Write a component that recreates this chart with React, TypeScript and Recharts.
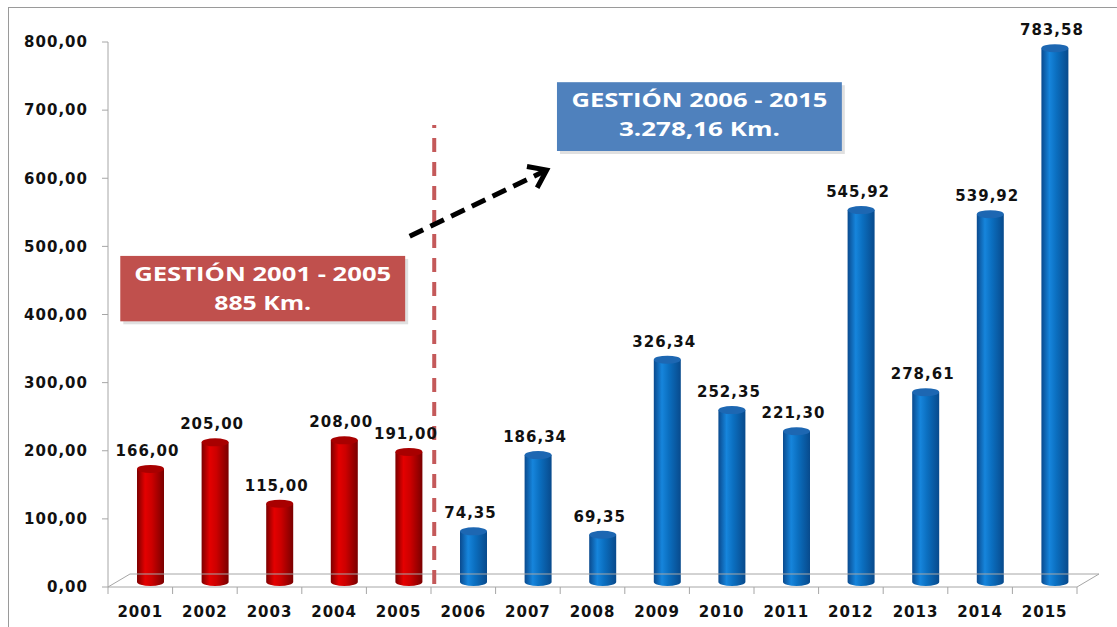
import React from 'react';
import {
  Bar,
  BarChart,
  Cell,
  LabelList,
  ReferenceArea,
  ReferenceLine,
  XAxis,
  YAxis,
} from 'recharts';

// Km por año
const years = [
  '2001', '2002', '2003', '2004', '2005', '2006', '2007', '2008',
  '2009', '2010', '2011', '2012', '2013', '2014', '2015',
];
const km = [
  166.0, 205.0, 115.0, 208.0, 191.0, 74.35, 186.34, 69.35,
  326.34, 252.35, 221.3, 545.92, 278.61, 539.92, 783.58,
];
const gestion = [
  'A', 'A', 'A', 'A', 'A', 'B', 'B', 'B', 'B', 'B', 'B', 'B', 'B', 'B', 'B',
];
const yTicks = [0, 100, 200, 300, 400, 500, 600, 700, 800];

const data = years.map((year, i) => ({ year, km: km[i], g: gestion[i] }));

const fmt = (v: number) => v.toFixed(2).replace('.', ',');
const TICK_FONT = {
  fontFamily: 'DejaVu Sans',
  fontWeight: 700,
  fontSize: 15,
  letterSpacing: 1,
  fill: '#111',
};
const BOX_FONT = {
  fontFamily: 'Open Sans',
  fontWeight: 700,
  fontSize: 19,
  fill: '#fff',
};

function Cylinder(props: any) {
  const { x, y, width, height, g } = props;
  const bx = x + 10;
  const top = y - 5;
  const bottom = y + height - 5;
  const rx = width / 2;
  const ry = 4;
  const red = g === 'A';
  return (
    <g>
      <path
        d={`M${bx},${top} L${bx},${bottom} A${rx},${ry} 0 0 0 ${bx + width},${bottom} L${bx + width},${top} Z`}
        fill={red ? 'url(#cylRed)' : 'url(#cylBlue)'}
      />
      <ellipse cx={bx + rx} cy={top} rx={rx} ry={ry} fill={red ? '#a80000' : '#1d67b2'} />
    </g>
  );
}

function Floor(props: any) {
  const { x1, x2, y1 } = props;
  const d = 22;
  const h = 13;
  const step = (x2 - x1) / years.length;
  return (
    <g stroke="#a6a6a6" strokeWidth={1} fill="none">
      <line x1={x1} y1={y1} x2={x2} y2={y1} />
      <line x1={x1 + d} y1={y1 - h} x2={x2 + d} y2={y1 - h} />
      <line x1={x1} y1={y1} x2={x1 + d} y2={y1 - h} />
      <line x1={x2} y1={y1} x2={x2 + d} y2={y1 - h} />
      {years.concat(['']).map((_, i) => (
        <line key={i} x1={x1 + i * step} y1={y1} x2={x1 + i * step} y2={y1 + 7} />
      ))}
    </g>
  );
}

function Arrow(props: any) {
  const { x1, y1, x2, y2 } = props;
  const ang = Math.atan2(y2 - y1, x2 - x1);
  const len = 20;
  const a1 = ang + Math.PI * 0.8;
  const a2 = ang - Math.PI * 0.8;
  return (
    <g stroke="#000" strokeWidth={5} fill="none">
      <line x1={x1} y1={y1} x2={x2 - 4 * Math.cos(ang)} y2={y2 - 4 * Math.sin(ang)} strokeDasharray="15 8" />
      <polyline
        points={`${x2 + len * Math.cos(a1)},${y2 + len * Math.sin(a1)} ${x2},${y2} ${x2 + len * Math.cos(a2)},${y2 + len * Math.sin(a2)}`}
        strokeLinejoin="miter"
      />
    </g>
  );
}

const boxShape = (fill: string, line1: string, line2: string, w1: number, w2: number) => (props: any) => {
  const { x, y, width, height } = props;
  const cx = x + width / 2;
  return (
    <g>
      <rect x={x + 3} y={y + 3} width={width} height={height} fill="#000" opacity={0.12} />
      <rect x={x} y={y} width={width} height={height} fill={fill} />
      <text x={cx - w1 / 2} y={y + 25} textLength={w1} lengthAdjust="spacingAndGlyphs" {...BOX_FONT}>
        {line1}
      </text>
      <text x={cx - w2 / 2} y={y + 54} textLength={w2} lengthAdjust="spacingAndGlyphs" {...BOX_FONT}>
        {line2}
      </text>
    </g>
  );
};

function ValueLabel(props: any) {
  const { x, y, width, value } = props;
  return (
    <text x={x + width / 2 + 7} y={y - 18} textAnchor="middle" {...TICK_FONT}>
      {fmt(value)}
    </text>
  );
}

export default function App() {
  return (
    <div style={{ position: 'absolute', left: 0, top: 0, width: 1117, height: 627, background: '#fff' }}>
      <div
        style={{
          position: 'absolute',
          left: 8,
          top: 7,
          width: 1109,
          height: 620,
          borderTop: '1px solid #9a9a9a',
          borderLeft: '1px solid #9a9a9a',
        }}
      />
      <div style={{ position: 'absolute', left: 0, top: 0 }}>
        <BarChart
          width={1117}
          height={627}
          data={data}
          margin={{ top: 42, right: 40, left: 0, bottom: 10 }}
          barSize={27}
        >
          <defs>
            <linearGradient id="cylRed" x1="0" y1="0" x2="1" y2="0">
              <stop offset="0" stopColor="#7c0000" />
              <stop offset="0.3" stopColor="#e40000" />
              <stop offset="0.55" stopColor="#cc0000" />
              <stop offset="1" stopColor="#7a0000" />
            </linearGradient>
            <linearGradient id="cylBlue" x1="0" y1="0" x2="1" y2="0">
              <stop offset="0" stopColor="#0a4a8e" />
              <stop offset="0.3" stopColor="#1685dc" />
              <stop offset="0.55" stopColor="#0b6fc0" />
              <stop offset="1" stopColor="#084a8c" />
            </linearGradient>
          </defs>
          <XAxis
            dataKey="year"
            height={30}
            axisLine={false}
            tickLine={false}
            tickSize={0}
            tickMargin={19}
            interval={0}
            tick={TICK_FONT}
          />
          <XAxis
            xAxisId="n"
            type="number"
            dataKey={() => 7.5}
            domain={[0, 15]}
            allowDataOverflow
            hide
          />
          <YAxis
            width={108}
            domain={[0, 800]}
            ticks={yTicks}
            interval={0}
            tickFormatter={fmt}
            tickSize={6}
            tickMargin={14}
            axisLine={{ stroke: '#a6a6a6' }}
            tickLine={{ stroke: '#a6a6a6' }}
            tick={TICK_FONT}
          />
          <ReferenceLine
            xAxisId="n"
            segment={[{ x: 0, y: 0 }, { x: 15, y: 0 }]}
            ifOverflow="visible"
            shape={Floor}
          />
          <Bar dataKey="km" isAnimationActive={false} shape={(p: any) => <Cylinder {...p} g={p.payload.g} />}>
            {data.map((d) => (
              <Cell key={d.year} />
            ))}
            <LabelList dataKey="km" content={ValueLabel} />
          </Bar>
          <ReferenceLine
            xAxisId="n"
            segment={[{ x: 5.05, y: 678 }, { x: 5.05, y: 2 }]}
            stroke="#c4595a"
            strokeWidth={4}
            strokeDasharray="14 10"
            strokeDashoffset={11}
            ifOverflow="visible"
          />
          <ReferenceLine
            xAxisId="n"
            segment={[{ x: 4.67, y: 515 }, { x: 6.79, y: 612 }]}
            ifOverflow="visible"
            shape={Arrow}
          />
          <ReferenceArea
            xAxisId="n"
            x1={0.19}
            x2={4.6}
            y1={390}
            y2={486}
            ifOverflow="visible"
            shape={boxShape('#c0504d', 'GESTIÓN 2001 - 2005', '885 Km.', 257, 97)}
          />
          <ReferenceArea
            xAxisId="n"
            x1={6.95}
            x2={11.36}
            y1={640}
            y2={741}
            ifOverflow="visible"
            shape={boxShape('#4f81bd', 'GESTIÓN 2006 - 2015', '3.278,16 Km.', 256, 161)}
          />
        </BarChart>
      </div>
    </div>
  );
}
